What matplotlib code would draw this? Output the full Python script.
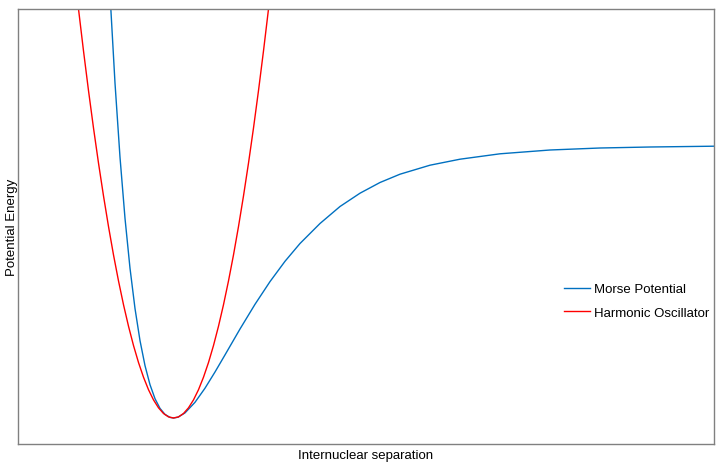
import matplotlib
matplotlib.use("Agg")
import matplotlib.pyplot as plt

# Morse potential samples (x = internuclear separation, arbitrary units; E = energy, arbitrary units)
morse_x = [110, 115, 120, 125, 130, 135, 140, 145, 150, 155, 160, 165, 170, 173.5,
           178, 185, 195, 205, 215, 225, 240, 255, 270, 285, 300, 320, 340, 360,
           380, 400, 430, 460, 500, 550, 600, 650, 714]
morse_e = [450.0, 360.9, 286.8, 225.7, 175.8, 135.5, 103.4, 78.4, 59.3, 45.3, 35.6, 29.6, 26.6, 26.0,
           26.8, 31.1, 41.7, 55.8, 72.0, 89.1, 115.0, 139.7, 162.4, 182.7, 200.5, 220.5, 237.5, 250.8,
           261.5, 269.8, 278.8, 284.8, 290.2, 294.0, 296.0, 297.0, 297.8]

# Harmonic oscillator samples
harm_x = [76.5, 78.5, 83.5, 88.5, 93.5, 98.5, 103.5, 108.5, 113.5, 118.5, 123.5, 128.5, 133.5,
          138.5, 143.5, 148.5, 153.5, 158.5, 163.5, 168.5, 173.5, 178.5, 183.5, 188.5, 193.5,
          198.5, 203.5, 208.5, 213.5, 218.5, 223.5, 228.5, 233.5, 238.5, 243.5, 248.5, 253.5,
          258.5, 263.5, 268.5, 270.5]
harm_e = [452.4, 435.0, 393.1, 353.4, 316.0, 280.9, 248.1, 217.5, 189.1, 163.1, 139.3, 117.8, 98.5,
          81.5, 66.8, 54.3, 44.1, 36.2, 30.5, 27.1, 26.0, 27.1, 30.5, 36.2, 44.1,
          54.3, 66.8, 81.5, 98.5, 117.8, 139.3, 163.1, 189.1, 217.5, 248.1, 280.9, 316.0,
          353.4, 393.1, 435.0, 452.4]

series_labels = ["Morse Potential", "Harmonic Oscillator"]
x_label = "Internuclear separation"
y_label = "Potential Energy"

plt.rcParams['font.family'] = ['Liberation Sans', 'DejaVu Sans']

W, H = 721, 464
fig = plt.figure(figsize=(W / 100, H / 100), dpi=100)
ax = fig.add_axes([18 / W, (H - 445) / H, (714 - 18) / W, (445 - 10) / H])

ax.plot(morse_x, morse_e, color="#0070C0", lw=1.0, label=series_labels[0])
ax.plot(harm_x, harm_e, color="#FF0000", lw=1.0, label=series_labels[1])

ax.set_xlim(18, 714)
ax.set_ylim(0, 435)
ax.set_xticks([])
ax.set_yticks([])
for sp in ax.spines.values():
    sp.set_color("#808080")
    sp.set_linewidth(1.0)

ax.set_xlabel(x_label, fontsize=9.5, labelpad=3.5)
ax.set_ylabel(y_label, fontsize=9.5, labelpad=0)

leg = ax.legend(loc="upper left", bbox_to_anchor=(564 / W, (H - 284) / H),
                bbox_transform=fig.transFigure, frameon=False, fontsize=9.5,
                handlelength=2.0, handletextpad=0.25, labelspacing=0.87,
                borderpad=0, borderaxespad=0)

fig.savefig("out.png", dpi=100)
